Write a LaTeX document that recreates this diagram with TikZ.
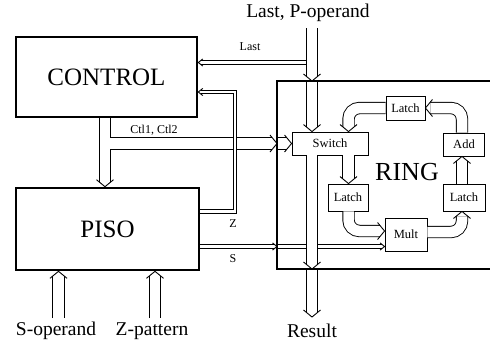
\documentclass[tikz,border=0pt]{standalone}
\usepackage{fontspec}
\setmainfont{Liberation Serif}
\usetikzlibrary{decorations.markings}

% open chevron at the end of a double line: length, half width
\newcommand{\tipChevron}[2]{%
  \pgfsetlinewidth{0.9pt}\pgfsetmiterjoin
  \pgfpathmoveto{\pgfqpoint{-#1}{#2}}\pgfpathlineto{\pgfpointorigin}%
  \pgfpathlineto{\pgfqpoint{-#1}{-#2}}\pgfusepathqstroke}

\begin{document}
\begin{tikzpicture}[x=1pt, y=-1pt,
  block/.style={draw, line width=2.6pt, inner sep=0pt, font=\fontsize{25}{28}\selectfont},
  unit/.style={draw, line width=0.9pt, fill=white, inner sep=0pt, font=\fontsize{12.5}{14}\selectfont},
  bus/.style={double, double distance=10.5pt, line width=0.9pt, shorten >=4.8pt,
    postaction={decorate, decoration={markings, mark=at position 1 with {\tipChevron{7pt}{8.5pt}}}}},
  wire/.style={double, double distance=2.6pt, line width=0.8pt, shorten >=2.2pt,
    postaction={decorate, decoration={markings, mark=at position 1 with {\tipChevron{4.5pt}{3.6pt}}}}},
  sigtext/.style={font=\fontsize{19.5}{22}\selectfont},
  lbl/.style={font=\fontsize{12}{14}\selectfont}]

% --- PARAMETERS ---
\def\pX{312}        % P-operand / Result bus
\def\ctlX{105}      % Ctl bus below CONTROL
\def\ctlY{143.5}
\def\ringLX{348.5}  % left column of the ring
\def\ringRX{462}    % right column of the ring
\def\busCore{10.5pt}

\useasboundingbox (0,0) rectangle (490,341);

% --- BLOCKS ---
\node[block, minimum width=181pt, minimum height=80pt] (ctrl) at (106.5,77) {CONTROL};
\node[block, minimum width=183pt, minimum height=82pt] (piso) at (107.5,229) {PISO};
\path node[minimum width=230pt, minimum height=188pt, outer sep=0pt] (ring) at (392,175) {};
\node[font=\fontsize{26}{28}\selectfont] (ringName) at (407,172) {RING};

% --- RING UNITS ---
\node[unit, minimum width=76pt, minimum height=23pt] (switch) at (330,143.5) {Switch};
\node[unit, minimum width=39pt, minimum height=24pt] (latchT) at (405.5,108) {Latch};
\node[unit, minimum width=41pt, minimum height=23pt] (add) at (464,144.5) {Add};
\node[unit, minimum width=40pt, minimum height=27pt] (latchL) at (348,197.5) {Latch};
\node[unit, minimum width=42pt, minimum height=27pt] (latchR) at (464,197.5) {Latch};
\node[unit, minimum width=42pt, minimum height=33pt] (mult) at (406,234.5) {Mult};

% --- TEXTS ---
\node[sigtext] (pIn) at (308,13) {Last, P-operand};
\node[sigtext] (resOut) at (312,331) {Result};
\node[sigtext] (sIn) at (56,331) {S-operand};
\node[sigtext] (zIn) at (152,331) {Z-pattern};
\node[lbl] (lastLbl) at (250,47) {Last};
\node[lbl] (ctlLbl) at (154,130) {Ctl1, Ctl2};
\node[lbl] (zLbl) at (233,224) {Z};
\node[lbl] (sLbl) at (233,259) {S};

% --- BUS POINTS ---
\coordinate (ctlJ) at (\ctlX,\ctlY);
\coordinate (pTop) at (\pX,28);
\coordinate (pBot) at (\pX,317);
\coordinate (lastJ) at (\pX,62.5);
\coordinate (zA) at (235,211.5);
\coordinate (zB) at (235,92);
\coordinate (sRow) at (235,246.5);
\coordinate (sOpTop) at (58.5,318);
\coordinate (zPatTop) at (155,318);
\coordinate (ringLcol) at (\ringLX,0);
\coordinate (ringRcol) at (\ringRX,0);

% --- CONTROL BUS ---
\draw[bus] (ctrl.south -| ctlJ) -- (piso.north -| ctlJ);
\draw[bus] (ctlJ) -- (ctlJ -| ring.west);
\draw[bus] (ctlJ -| ring.west) -- (switch.west);
\draw[white, line width=\busCore] (ctlJ) -- ++(7,0);
\draw[white, line width=\busCore] ([yshift=6.5pt]ctlJ) -- ([yshift=-6.5pt]ctlJ);

% --- Z AND S ---
\draw[wire] (zA -| piso.east) -- (zA) -- (zB) -- (zB -| ctrl.east);
\draw[wire] (sRow -| piso.east) -- (sRow -| ring.west);
\draw[wire] (sRow -| ring.west) -- (sRow -| mult.west);

% --- P-OPERAND / RESULT BUS ---
\draw[wire] (lastJ) -- (lastJ -| ctrl.east);
\draw[bus] (pTop) -- (pTop |- ring.north);
\draw[bus] (pTop |- ring.north) -- (pTop |- switch.north);
\draw[bus] (pTop |- switch.south) -- (pTop |- ring.south);
\draw[bus] (pTop |- ring.south) -- (pBot);

% --- INPUTS ---
\draw[bus] (sOpTop) -- (sOpTop |- piso.south);
\draw[bus] (zPatTop) -- (zPatTop |- piso.south);

% --- RING LOOP ---
\begin{scope}[rounded corners=11pt]
  \draw[bus] (latchT.west) -| (ringLcol |- switch.north);
  \draw[bus] (ringRcol |- add.north) |- (latchT.east);
  \draw[bus] (ringLcol |- switch.south) -- (ringLcol |- latchL.north);
  \draw[bus] (ringLcol |- latchL.south) |- ([yshift=3.5pt]mult.west);
  \draw[bus] ([yshift=2.5pt]mult.east) -| (ringRcol |- latchR.south);
  \draw[bus] (ringRcol |- latchR.north) -- (ringRcol |- add.south);
\end{scope}

% --- RING FRAME ---
\draw[line width=2.8pt] (ring.north west) rectangle (ring.south east);

\end{tikzpicture}
\end{document}
